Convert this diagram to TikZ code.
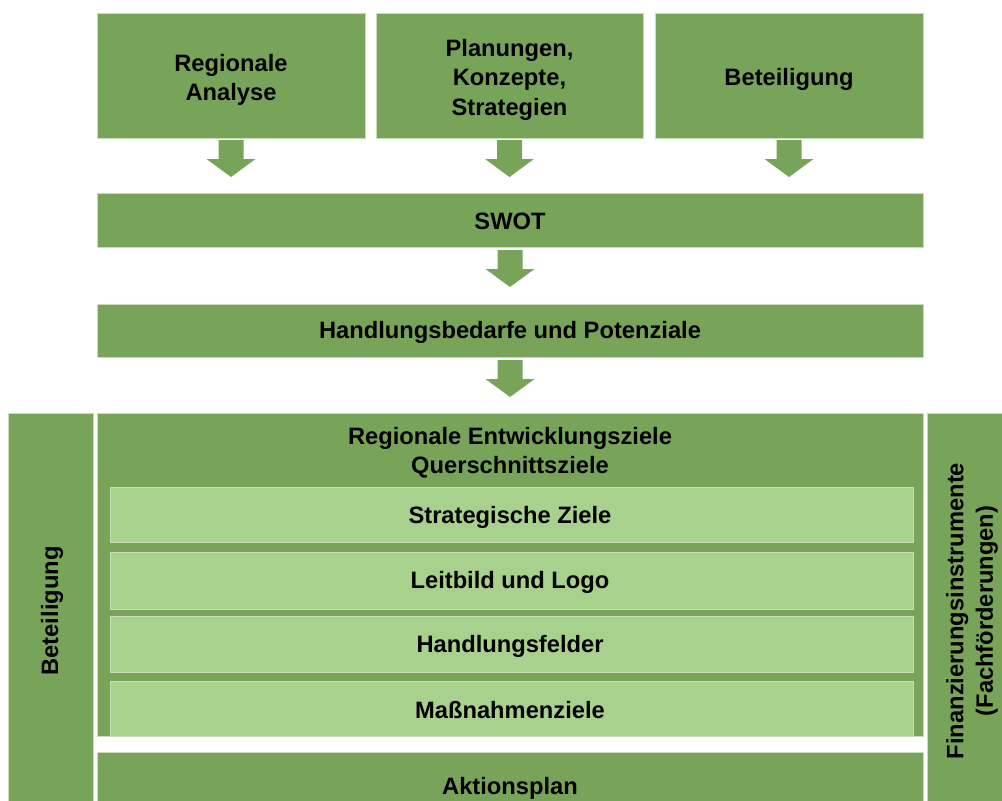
\documentclass[tikz,border=0pt]{standalone}
\usepackage{fontspec}
\setmainfont{Liberation Sans}
\usetikzlibrary{positioning}
\definecolor{dgreen}{HTML}{78A45A}
\definecolor{lgreen}{HTML}{A9D18E}
\definecolor{edge}{HTML}{C9DDBA}
\tikzset{
  x=1pt, y=-1pt,
  txt/.style={font=\fontsize{23.7}{29.5}\selectfont\bfseries, text=black, align=center},
  dbox/.style={fill=dgreen, draw=edge, line width=0.6pt},
  lbox/.style={fill=lgreen, draw=edge, line width=0.6pt},
  barrow/.style={fill=dgreen, draw=none}
}
\newcommand{\blockarr}[3]{% name, x center, y top
  \coordinate (#1) at (#2,#3);
  \fill[barrow] ([xshift=-12.5pt]#1) -- ([xshift=12.5pt]#1) -- ([xshift=12.5pt,yshift=-19pt]#1)
    -- ([xshift=24.5pt,yshift=-19pt]#1) -- ([yshift=-37pt]#1) -- ([xshift=-24.5pt,yshift=-19pt]#1)
    -- ([xshift=-12.5pt,yshift=-19pt]#1) -- cycle;}
\begin{document}
\begin{tikzpicture}
\useasboundingbox (0,0) rectangle (1002,801);
\clip (0,0) rectangle (1002,801);
\fill[white] (0,0) rectangle (1002,801);
% top row
\draw[dbox] (97,13) rectangle (365,138);
\draw[dbox] (376,13) rectangle (643,138);
\draw[dbox] (655,13) rectangle (923,138);
\node[txt] (ra) at (231,80) {Regionale\\Analyse};
\node[txt] (pk) at (509.5,79.5) {Planungen,\\Konzepte,\\Strategien};
\node[txt] (bt) at (789,79) {Beteiligung};
% arrows
\blockarr{a1}{231}{140}
\blockarr{a2}{509.5}{140}
\blockarr{a3}{789}{140}
% SWOT
\draw[dbox] (97,193) rectangle (923,247);
\node[txt] (swot) at (510,221.5) {SWOT};
\blockarr{a4}{510}{250}
\draw[dbox] (97,304) rectangle (923,357);
\node[txt] (hb) at (510,332.5) {Handlungsbedarfe und Potenziale};
\blockarr{a5}{510}{360}
% left column
\draw[dbox] (8,413) rectangle (93,812);
\node[txt, rotate=90] (bl) at (52,611) {Beteiligung};
% right column
\draw[dbox] (927,413) rectangle (1010,812);
\node[txt, rotate=90] (fi) at (972,611) {Finanzierungsinstrumente\\(Fachförderungen)};
% main box
\draw[dbox] (97,413) rectangle (923,736);
\node[txt] (rez) at (510,452.5) {Regionale Entwicklungsziele\\Querschnittsziele};
\draw[lbox] (110,487) rectangle (913,542);
\node[txt] (sz) at (510,517.5) {Strategische Ziele};
\draw[lbox] (110,552) rectangle (913,609);
\node[txt] (ll) at (510,582.5) {Leitbild und Logo};
\draw[lbox] (110,616) rectangle (913,672);
\node[txt] (hf) at (510,646.5) {Handlungsfelder};
\draw[lbox] (110,681) rectangle (913,736);
\node[txt] (mz) at (510,710.5) {Maßnahmenziele};
% Aktionsplan
\draw[dbox] (97,752) rectangle (923,822);
\node[txt] (ap) at (510,788.5) {Aktionsplan};
\end{tikzpicture}
\end{document}
